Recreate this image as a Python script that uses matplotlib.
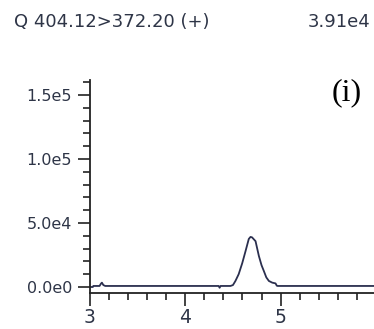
import numpy as np
import matplotlib
matplotlib.use("Agg")
import matplotlib.pyplot as plt
from matplotlib.ticker import MultipleLocator, FuncFormatter

# retention time (min) and intensity of the trace
rt = [3.00, 3.03, 3.035, 3.10, 3.115, 3.125, 3.14, 3.16, 4.35, 4.36, 4.37,
      4.474, 4.50, 4.526, 4.56, 4.597, 4.632, 4.666, 4.684, 4.70, 4.716,
      4.737, 4.772, 4.80, 4.824, 4.85, 4.877, 4.912, 4.947, 4.96, 4.97, 5.98]
intensity = [0, 0, 800, 800, 2600, 3400, 1500, 800, 800, -600, 800,
             800, 1500, 4700, 10000, 18500, 28000, 37500, 39100, 38800, 37500,
             35800, 24200, 17000, 12500, 7500, 4700, 3400, 2800, 1000, 800, 800]

title_left = "Q 404.12>372.20 (+)"
title_right = "3.91e4"
panel_tag = "(i)"
yticks = [0, 5e4, 1e5, 1.5e5]
ytick_labels = ["0.0e0", "5.0e4", "1.0e5", "1.5e5"]

txt = "#2e3547"
fig = plt.figure(figsize=(3.74, 3.29), dpi=100)
ax = fig.add_axes([90 / 374, 36 / 329, 284 / 374, 213 / 329])

ax.plot(rt, intensity, color="#2b2f4f", lw=1.3)

ax.set_xlim(3, 5.98)
ax.set_ylim(-4700, 161700)
ax.spines["top"].set_visible(False)
ax.spines["right"].set_visible(False)
for s in ("left", "bottom"):
    ax.spines[s].set_color("#222222")
    ax.spines[s].set_linewidth(1.3)

ax.xaxis.set_major_locator(MultipleLocator(1))
ax.xaxis.set_minor_locator(MultipleLocator(0.2))
ax.set_yticks(yticks)
ax.set_yticklabels(ytick_labels)
ax.yaxis.set_minor_locator(MultipleLocator(1e4))
ax.xaxis.set_major_formatter(FuncFormatter(lambda v, p: f"{v:.0f}"))

ax.tick_params(which="major", length=9, width=1.2, color="#222222",
               labelsize=11.5, labelcolor=txt, pad=4)
ax.tick_params(axis="x", which="major", labelsize=13.5, pad=1.5)
ax.tick_params(which="minor", length=5, width=1.2, color="#222222")

fig.text(14 / 374, 1 - 22 / 329, title_left, fontsize=13, color=txt,
         va="center", ha="left")
fig.text(370 / 374, 1 - 22 / 329, title_right, fontsize=13, color=txt,
         va="center", ha="right")
fig.text(347 / 374, 1 - 93 / 329, panel_tag, fontsize=23, color="black",
         family="Liberation Serif", va="center", ha="center")

fig.savefig("out.png", dpi=100)
